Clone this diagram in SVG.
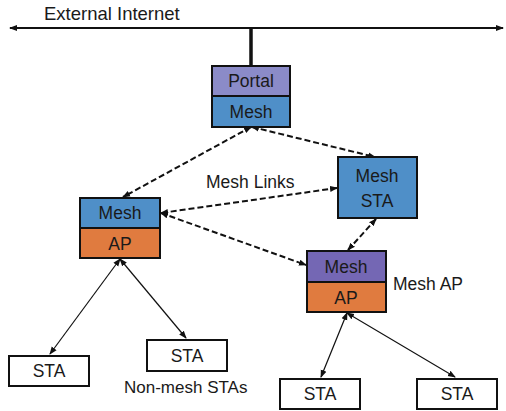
<svg xmlns="http://www.w3.org/2000/svg" width="506" height="411" viewBox="0 0 506 411">
<style>
text{font-family:"Liberation Sans",Arial,sans-serif;font-size:17.5px;fill:#1a1a1a}
.c{text-anchor:middle}
.box{stroke:#111;stroke-width:2}
.portal{fill:#8B8BC8}
.mesh{fill:#4F8FC8}
.mp{fill:#7467B4}
.ap{fill:#E07B3F}
.sta{fill:#fff}
.dash{stroke:#111;stroke-width:2;stroke-dasharray:6 3;fill:none;marker-start:url(#a);marker-end:url(#a)}
.thin{stroke:#111;stroke-width:1.2;fill:none;marker-start:url(#a);marker-end:url(#a)}
</style>
<defs>
<marker id="a" markerUnits="userSpaceOnUse" markerWidth="8" markerHeight="8" refX="7" refY="4" orient="auto-start-reverse" viewBox="0 0 8 8">
<path d="M0,1 L8,4 L0,7 Z" fill="#111"/>
</marker>
</defs>
<rect width="506" height="411" fill="#fff"/>
<g id="internet">
<line x1="10" y1="28" x2="503" y2="28" stroke="#111" stroke-width="2" marker-start="url(#a)" marker-end="url(#a)"/>
<text x="44" y="20" style="font-size:18.5px">External Internet</text>
<line x1="251" y1="28" x2="251" y2="66" stroke="#111" stroke-width="3.5"/>
</g>
<g id="connectors">
<line class="dash" x1="251" y1="127" x2="123" y2="197"/>
<line class="dash" x1="252" y1="127" x2="375" y2="157"/>
<line class="dash" x1="337" y1="188" x2="161" y2="213"/>
<line class="dash" x1="161" y1="213" x2="306" y2="265"/>
<line class="dash" x1="376" y1="219" x2="348" y2="250"/>
<line class="thin" x1="120" y1="259" x2="50" y2="354"/>
<line class="thin" x1="120" y1="259" x2="186" y2="338"/>
<line class="thin" x1="347" y1="313" x2="321" y2="377"/>
<line class="thin" x1="347" y1="313" x2="455" y2="377"/>
</g>
<g id="portal">
<rect class="box portal" x="212" y="66" width="78" height="30"/>
<rect class="box mesh" x="212" y="96" width="78" height="31"/>
<text class="c" x="251" y="87">Portal</text>
<text class="c" x="251" y="118">Mesh</text>
</g>
<g id="mesh-sta">
<rect class="box mesh" x="338" y="157" width="79" height="61"/>
<text class="c" x="377" y="182">Mesh</text>
<text class="c" x="377" y="207">STA</text>
</g>
<g id="left-ap">
<rect class="box mesh" x="80" y="198" width="80" height="30"/>
<rect class="box ap" x="80" y="228" width="80" height="30"/>
<text class="c" x="120" y="219">Mesh</text>
<text class="c" x="120" y="250">AP</text>
</g>
<g id="mesh-ap">
<rect class="box mp" x="307" y="251" width="79" height="31"/>
<rect class="box ap" x="307" y="282" width="79" height="30"/>
<text class="c" x="346" y="273">Mesh</text>
<text class="c" x="346" y="304">AP</text>
<text x="393" y="290">Mesh AP</text>
</g>
<g id="labels">
<text x="206" y="188">Mesh Links</text>
<text x="124" y="393" style="font-size:17px">Non-mesh STAs</text>
</g>
<g id="sta1"><rect class="box sta" x="9" y="356" width="80" height="30"/><text class="c" x="49" y="377">STA</text></g>
<g id="sta2"><rect class="box sta" x="147" y="340" width="80" height="31"/><text class="c" x="187" y="362">STA</text></g>
<g id="sta3"><rect class="box sta" x="280" y="379" width="80" height="30"/><text class="c" x="320" y="400">STA</text></g>
<g id="sta4"><rect class="box sta" x="417" y="379" width="80" height="30"/><text class="c" x="457" y="400">STA</text></g>
</svg>
